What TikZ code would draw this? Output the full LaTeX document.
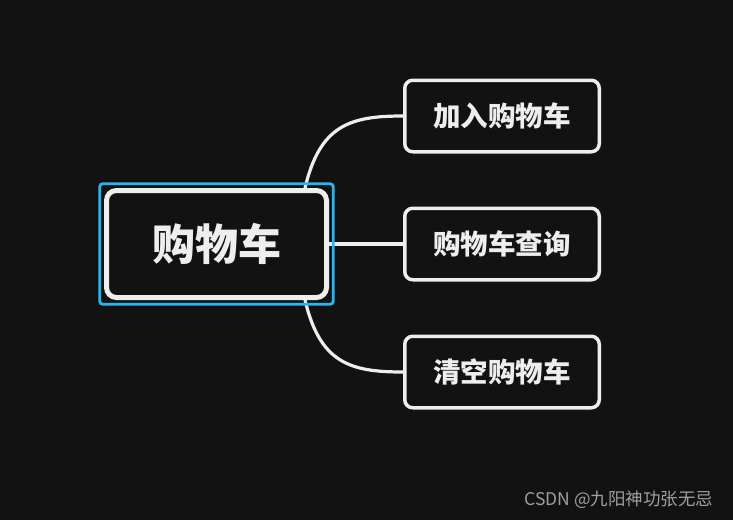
\documentclass[tikz,border=0pt]{standalone}
\usepackage{fontspec}
\newfontfamily\cjk{Noto Sans CJK SC}
\usepackage{xcolor}
\usetikzlibrary{positioning,fit}
\definecolor{bgdark}{HTML}{121212}
\definecolor{inkwhite}{HTML}{EEEEEE}
\definecolor{selblue}{HTML}{2AB4F0}

\begin{document}
\begin{tikzpicture}[x=1pt, y=-1pt,
    topic/.style={draw=inkwhite, fill=bgdark, text=inkwhite, align=center},
    roottopic/.style={topic, line width=5pt, rounded corners=10pt,
                minimum width=220pt, minimum height=107pt,
                font=\cjk\bfseries\fontsize{43}{50}\selectfont},
    subtopic/.style={topic, line width=3.5pt, rounded corners=8pt,
                minimum width=194.5pt, minimum height=71.5pt,
                font=\cjk\bfseries\fontsize{27.5}{32}\selectfont},
    link/.style={draw=inkwhite, line width=3.2pt},
    selframe/.style={draw=selblue, line width=2.8pt, rounded corners=3pt, inner sep=4.25pt},
]
% Canvas
\fill[bgdark] (0,0) rectangle (733,520);
\useasboundingbox (0,0) rectangle (733,520);

% Central topic
\node[roottopic] (cart) at (216.5,244) {购物车};

% Branches
\node[subtopic, right=74pt of cart] (query) {购物车查询};
\node[subtopic, above=53pt of query] (add) {加入购物车};
\node[subtopic, below=53pt of query] (clear) {清空购物车};

% Links
\draw[link] ([xshift=-24pt]cart.north east) .. controls +(15,-63) and +(-53,0) .. (add.west);
\draw[link] (cart.east) -- (query.west);
\draw[link] ([xshift=-24pt]cart.south east) .. controls +(15,63) and +(-53,0) .. (clear.west);

% Selection
\node[selframe, fit=(cart)] (select) {};

% Watermark
\node[font=\cjk\fontsize{17.5}{20}\selectfont, text=gray!75, anchor=east] (credit) at (717,500) {CSDN @九阳神功张无忌};
\end{tikzpicture}
\end{document}
